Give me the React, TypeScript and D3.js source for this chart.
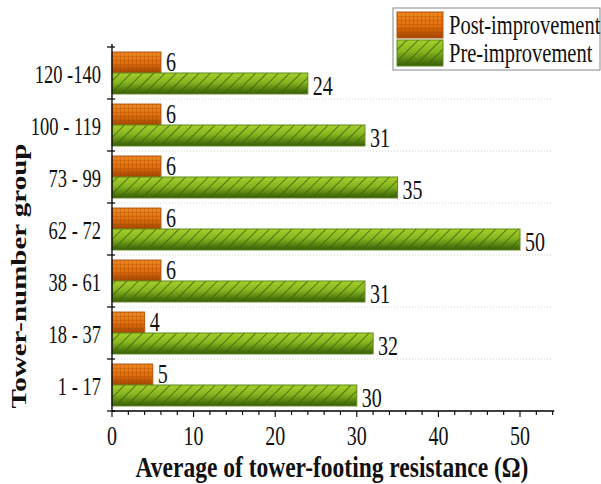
import { useEffect, useRef } from 'react';
import * as d3 from 'd3';

// tower groups, top to bottom
const groups = ['120 -140', '100 - 119', '73 - 99', '62 - 72', '38 - 61', '18 - 37', '1 - 17'];
const postImprovement = [6, 6, 6, 6, 6, 4, 5];
const preImprovement = [24, 31, 35, 50, 31, 32, 30];
const xTicks = [0, 10, 20, 30, 40, 50];
const seriesNames = ['Post-improvement', 'Pre-improvement'];

const FONT = '"Liberation Serif", "Times New Roman", serif';
// the original figure is stretched vertically, so text is too
const SY = 1.38;

export default function App() {
  const svgRef = useRef<SVGSVGElement>(null);

  useEffect(() => {
    if (!svgRef.current) return;
    const svg = d3.select(svgRef.current);
    svg.selectAll('*').remove();

    const left = 112;
    const top = 47;
    const bottom = 411;

    const x = d3.scaleLinear().domain([0, 54]).range([left, left + 54 * 8.16]);
    const y = d3.scaleBand<string>().domain(groups).range([top, bottom]).padding(0);
    const inner = d3.scaleBand<string>().domain(['post', 'pre']).range([0, y.bandwidth()])
      .paddingInner(0).paddingOuter(0.24);

    // text drawn with its vertical stretch, (tx, ty) is the baseline point
    const label = (parent: any, tx: number, ty: number, str: string | number, size: number,
      anchor = 'start', bold = false, sy = SY) => {
      parent.append('text')
        .attr('transform', `translate(${tx},${ty}) scale(1,${sy})`)
        .attr('text-anchor', anchor)
        .attr('font-family', FONT).attr('font-size', size)
        .attr('font-weight', bold ? 'bold' : 'normal')
        .attr('fill', '#111')
        .text(str);
    };

    const defs = svg.append('defs');

    // orange gradient + grid
    const og = defs.append('linearGradient').attr('id', 'orangeGrad')
      .attr('x1', 0).attr('y1', 0).attr('x2', 0).attr('y2', 1);
    og.append('stop').attr('offset', '0%').attr('stop-color', '#f08a22');
    og.append('stop').attr('offset', '55%').attr('stop-color', '#e06d0a');
    og.append('stop').attr('offset', '100%').attr('stop-color', '#a04600');

    const op = defs.append('pattern').attr('id', 'orangeGrid')
      .attr('patternUnits', 'userSpaceOnUse').attr('width', 4).attr('height', 4);
    op.append('path').attr('d', 'M0,0.5H4M0.5,0V4')
      .attr('stroke', '#9a4000').attr('stroke-width', 0.6).attr('stroke-opacity', 0.45);

    // green gradient + hatch
    const gg = defs.append('linearGradient').attr('id', 'greenGrad')
      .attr('x1', 0).attr('y1', 0).attr('x2', 0).attr('y2', 1);
    gg.append('stop').attr('offset', '0%').attr('stop-color', '#a8d02c');
    gg.append('stop').attr('offset', '45%').attr('stop-color', '#86b41e');
    gg.append('stop').attr('offset', '100%').attr('stop-color', '#355c06');

    const gp = defs.append('pattern').attr('id', 'greenHatch')
      .attr('patternUnits', 'userSpaceOnUse').attr('width', 8).attr('height', 8)
      .attr('patternTransform', 'rotate(45)');
    gp.append('line').attr('x1', 0).attr('y1', 0).attr('x2', 0).attr('y2', 8)
      .attr('stroke', '#3d6210').attr('stroke-width', 1.6);

    const fills = {
      post: { grad: 'url(#orangeGrad)', pat: 'url(#orangeGrid)', stroke: '#b85a10' },
      pre: { grad: 'url(#greenGrad)', pat: 'url(#greenHatch)', stroke: '#5d8a1a' },
    };

    // dotted grid lines at group boundaries
    groups.slice(1).forEach(g => {
      svg.append('line')
        .attr('x1', left).attr('x2', x(54))
        .attr('y1', y(g)!).attr('y2', y(g)!)
        .attr('stroke', '#c8c8c8').attr('stroke-width', 0.8)
        .attr('stroke-dasharray', '1,2');
    });

    // bars
    groups.forEach((g, i) => {
      const entries: [string, number][] = [['post', postImprovement[i]], ['pre', preImprovement[i]]];
      entries.forEach(([key, v]) => {
        const f = fills[key as 'post' | 'pre'];
        const by = y(g)! + inner(key)!;
        const bh = inner.bandwidth();
        svg.append('rect').attr('x', x(0)).attr('y', by)
          .attr('width', x(v) - x(0)).attr('height', bh).attr('fill', f.grad);
        svg.append('rect').attr('x', x(0)).attr('y', by)
          .attr('width', x(v) - x(0)).attr('height', bh).attr('fill', f.pat)
          .attr('stroke', f.stroke).attr('stroke-width', 1);
        label(svg, x(v) + 5, by + bh / 2 + (key === 'pre' ? 12 : 8), v, 20);
      });
    });

    // y axis
    svg.append('line').attr('x1', left).attr('x2', left).attr('y1', top - 3).attr('y2', bottom)
      .attr('stroke', '#000').attr('stroke-width', 1.3);
    [...groups.map(g => y(g)!), bottom].forEach(ty => {
      svg.append('line').attr('x1', left - 5).attr('x2', left + 3).attr('y1', ty).attr('y2', ty)
        .attr('stroke', '#000').attr('stroke-width', 1.2);
    });
    groups.forEach(g => {
      label(svg, left - 11, y(g)! + y.bandwidth() / 2 + 10, g, 18.5, 'end');
    });

    // x axis
    svg.append('line').attr('x1', left).attr('x2', x(54.2)).attr('y1', bottom).attr('y2', bottom)
      .attr('stroke', '#000').attr('stroke-width', 1.3);
    d3.range(0, 55, 2).forEach(t => {
      const major = t % 10 === 0;
      svg.append('line').attr('x1', x(t)).attr('x2', x(t))
        .attr('y1', bottom).attr('y2', bottom + (major ? 6 : 4))
        .attr('stroke', '#000').attr('stroke-width', 1.1);
    });
    xTicks.forEach(t => {
      label(svg, x(t), bottom + 34, t, 20, 'middle', false, 1.32);
    });

    // axis titles
    label(svg, 332, 477, 'Average of tower-footing resistance (Ω)', 23.5, 'middle', true, 1.28);
    svg.append('text')
      .attr('transform', `translate(26,276) rotate(-90) scale(${SY},1)`)
      .attr('text-anchor', 'middle')
      .attr('font-family', FONT).attr('font-size', 21).attr('font-weight', 'bold').attr('fill', '#111')
      .text('Tower-number group');

    // legend
    const lg = svg.append('g').attr('transform', 'translate(393,8)');
    lg.append('rect').attr('x', 0).attr('y', 0).attr('width', 207).attr('height', 62)
      .attr('fill', '#fff').attr('stroke', '#888').attr('stroke-width', 1);
    seriesNames.forEach((name, i) => {
      const f = i === 0 ? fills.post : fills.pre;
      const sy = 4 + i * 28;
      lg.append('rect').attr('x', 4).attr('y', sy).attr('width', 46).attr('height', 26).attr('fill', f.grad);
      lg.append('rect').attr('x', 4).attr('y', sy).attr('width', 46).attr('height', 26).attr('fill', f.pat)
        .attr('stroke', f.stroke).attr('stroke-width', 1);
      label(lg, 56, sy + 22, name, 20.5);
    });
  }, []);

  return (
    <svg ref={svgRef} width={601} height={484}
      style={{ position: 'absolute', left: 0, top: 0, background: '#fff' }} />
  );
}
